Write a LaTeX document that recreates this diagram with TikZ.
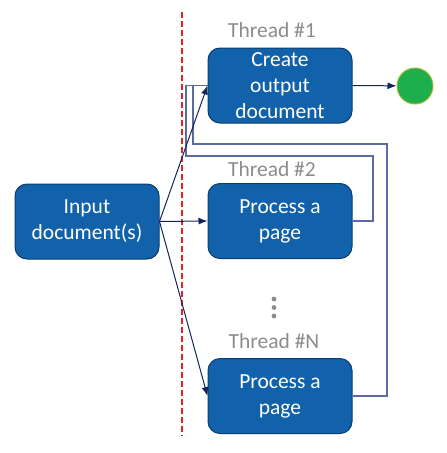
\documentclass[tikz,border=0pt]{standalone}
\usepackage{fontspec}
\setmainfont{Carlito}
\usepackage{tikz}
\usetikzlibrary{arrows.meta}

\definecolor{boxblue}{HTML}{1162AB}
\definecolor{boxedge}{HTML}{0C3C6E}
\definecolor{arrowblue}{HTML}{14245A}
\definecolor{loopblue}{HTML}{5A6AA2}
\definecolor{labelgray}{HTML}{8C8C8C}
\definecolor{endgreen}{HTML}{1DAF4B}
\definecolor{endedge}{HTML}{A3B83A}
\definecolor{splitred}{HTML}{E02424}

\begin{document}
\begin{tikzpicture}[
        x=1pt, y=-1pt,
        task node/.style={rectangle, rounded corners=12pt, draw=boxedge, line width=1pt,
            fill=boxblue, text=white, align=center, minimum width=144pt,
            minimum height=75pt, inner sep=0pt, font=\fontsize{21.5}{26}\selectfont},
        thread label/.style={text=labelgray, inner sep=0pt, font=\fontsize{21.5}{26}\selectfont},
        end node/.style={circle, draw=endedge, line width=1pt, fill=endgreen, minimum size=36pt, inner sep=0pt},
        flow/.style={draw=arrowblue, line width=1pt, -{Latex[length=9pt,width=7pt]}},
        back flow/.style={draw=loopblue, line width=1.2pt},
    ]
    \useasboundingbox (0,0) rectangle (447,453);

    \node[task node] (input) at (87,221.5) {Input\\document(s)};
    \node[task node] (create) at (280,85.5) {Create\\output\\document};
    \node[task node] (t2) at (280,221) {Process a\\page};
    \node[task node] (tN) at (280,396) {Process a\\page};
    \node[end node] (done) at (415,86) {};

    \node[thread label] (lab1) at (272,30) {Thread \#1};
    \node[thread label] (lab2) at (272,169) {Thread \#2};
    \node[thread label] (labN) at (274,341) {Thread \#N};

    % dots between thread 2 and thread N
    \foreach \y in {299,307.5,316}
        \fill[labelgray] (274,\y) circle (2.4pt);

    % split line
    \draw[splitred, line width=2.5pt, dash pattern=on 5.5pt off 3.5pt] (182,12) -- (182,436);

    \coordinate (up2) at (373,156);
    \coordinate (left2) at (186,156);
    \coordinate (upN) at (387,144);
    \coordinate (leftN) at (193,144);

    \draw[back flow] (t2.east) -| (up2) -- (left2) |- (create.west);
    \draw[back flow] (tN.east) -| (upN) -- (leftN) |- (create.west);

    \draw[flow] (input.east) -- (create.west);
    \draw[flow] (input.east) -- (t2.west);
    \draw[flow] (input.east) -- (tN.west);
    \draw[flow] (create.east) -- (done);
\end{tikzpicture}
\end{document}
